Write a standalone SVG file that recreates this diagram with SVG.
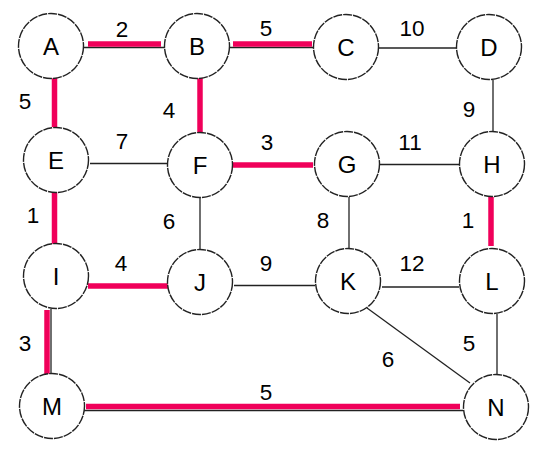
<svg xmlns="http://www.w3.org/2000/svg" width="548" height="457" viewBox="0 0 548 457">
<style>
.thin{stroke:#222;stroke-width:1.3;fill:none}
.red{stroke:#f0005a;stroke-width:5.5;fill:none}
.node circle{fill:#fff;stroke:#222;stroke-width:1.4;stroke-dasharray:9 1}
.node text{font-family:"Liberation Sans",Arial,sans-serif;font-size:24px;text-anchor:middle;fill:#000}
.lbl{font-family:"Liberation Sans",Arial,sans-serif;font-size:22.5px;text-anchor:middle;fill:#000}
</style>
<rect width="548" height="457" fill="#fff"/>
<g id="connectors">
<line class="thin" x1="84" y1="47.5" x2="165" y2="47.5"/>
<line class="red" x1="88" y1="44" x2="161" y2="44"/>
<line class="thin" x1="229" y1="47.5" x2="313" y2="47.5"/>
<line class="red" x1="233" y1="44" x2="312" y2="44"/>
<line class="thin" x1="379" y1="48" x2="456" y2="48"/>
<line class="red" x1="54.5" y1="76" x2="54.5" y2="127"/>
<line class="red" x1="200" y1="76" x2="200" y2="133"/>
<line class="thin" x1="90" y1="163.5" x2="167" y2="163.5"/>
<line class="red" x1="233" y1="165" x2="313" y2="165"/>
<line class="thin" x1="380" y1="164.5" x2="459" y2="164.5"/>
<line class="thin" x1="493" y1="80" x2="493" y2="132"/>
<line class="red" x1="54.5" y1="190" x2="54.5" y2="245"/>
<line class="thin" x1="200" y1="198" x2="200" y2="250"/>
<line class="thin" x1="349" y1="197" x2="349" y2="249"/>
<line class="red" x1="491" y1="197" x2="491" y2="246"/>
<line class="red" x1="88" y1="286" x2="168" y2="286"/>
<line class="thin" x1="234" y1="285.5" x2="315" y2="285.5"/>
<line class="thin" x1="382" y1="287" x2="459" y2="287"/>
<line class="thin" x1="367" y1="308" x2="470" y2="383"/>
<line class="thin" x1="497" y1="314" x2="497" y2="375"/>
<line class="thin" x1="51" y1="309" x2="51" y2="374"/>
<line class="red" x1="47" y1="310" x2="47" y2="374"/>
<line class="thin" x1="84" y1="410.5" x2="463" y2="410.5"/>
<line class="red" x1="86" y1="406.5" x2="460" y2="406.5"/>
</g>
<g id="edge-labels">
<text class="lbl" x="122" y="37">2</text>
<text class="lbl" x="266" y="36">5</text>
<text class="lbl" x="412" y="36">10</text>
<text class="lbl" x="25" y="109">5</text>
<text class="lbl" x="169" y="118">4</text>
<text class="lbl" x="469" y="117">9</text>
<text class="lbl" x="122" y="149">7</text>
<text class="lbl" x="267" y="150">3</text>
<text class="lbl" x="410" y="150">11</text>
<text class="lbl" x="33" y="223">1</text>
<text class="lbl" x="169" y="229">6</text>
<text class="lbl" x="323" y="228">8</text>
<text class="lbl" x="468" y="228">1</text>
<text class="lbl" x="121" y="271">4</text>
<text class="lbl" x="266" y="271">9</text>
<text class="lbl" x="412" y="271">12</text>
<text class="lbl" x="25" y="351">3</text>
<text class="lbl" x="469" y="351">5</text>
<text class="lbl" x="388" y="367">6</text>
<text class="lbl" x="266" y="400">5</text>
</g>
<g id="A" class="node"><circle cx="51" cy="46" r="32.5"/><text x="51" y="54.5">A</text></g>
<g id="B" class="node"><circle cx="197" cy="46" r="32.5"/><text x="197" y="54.5">B</text></g>
<g id="C" class="node"><circle cx="346" cy="47" r="32.5"/><text x="346" y="55.5">C</text></g>
<g id="D" class="node"><circle cx="489" cy="47" r="32.5"/><text x="489" y="55.5">D</text></g>
<g id="E" class="node"><circle cx="56" cy="160" r="32.5"/><text x="56" y="168.5">E</text></g>
<g id="F" class="node"><circle cx="200" cy="165" r="32.5"/><text x="200" y="173.5">F</text></g>
<g id="G" class="node"><circle cx="347" cy="164" r="32.5"/><text x="347" y="172.5">G</text></g>
<g id="H" class="node"><circle cx="492" cy="164" r="32.5"/><text x="492" y="172.5">H</text></g>
<g id="I" class="node"><circle cx="56" cy="276" r="32.5"/><text x="56" y="284.5">I</text></g>
<g id="J" class="node"><circle cx="200" cy="282" r="32.5"/><text x="200" y="290.5">J</text></g>
<g id="K" class="node"><circle cx="348" cy="281" r="32.5"/><text x="348" y="289.5">K</text></g>
<g id="L" class="node"><circle cx="492" cy="281" r="32.5"/><text x="492" y="289.5">L</text></g>
<g id="M" class="node"><circle cx="52" cy="406" r="32.5"/><text x="52" y="414.5">M</text></g>
<g id="N" class="node"><circle cx="496" cy="407" r="32.5"/><text x="496" y="415.5">N</text></g>
</svg>
